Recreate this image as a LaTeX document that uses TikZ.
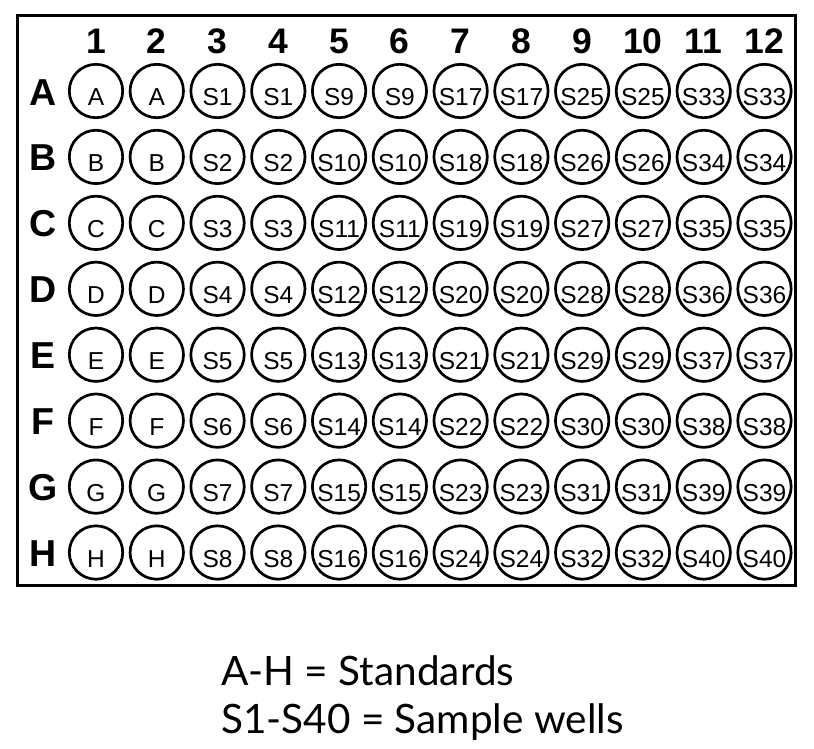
\documentclass[tikz,border=0pt]{standalone}
\usepackage{fontspec}
\setmainfont{Lato}
\newfontfamily\platefont{Liberation Sans}

\begin{document}
\begin{tikzpicture}[x=1pt,y=-1pt,
  frame/.style={draw, line width=3pt},
  well/.style={draw, circle, line width=2.7pt, minimum size=53.4pt, inner sep=0pt},
  welltext/.style={anchor=base, inner sep=0pt, font=\platefont\fontsize{24.5}{24.5}\selectfont},
  colhead/.style={anchor=base, inner sep=0pt, font=\platefont\bfseries\fontsize{35.5}{35.5}\selectfont},
  rowhead/.style={anchor=base, inner sep=0pt, font=\platefont\bfseries\fontsize{37.5}{37.5}\selectfont},
  legendtext/.style={anchor=base west, inner sep=0pt, font=\fontsize{40.5}{48}\selectfont}]
\useasboundingbox (0,0) rectangle (814,748);

% plate outline
\draw[frame] (17.5,15.5) rectangle (795.5,585.5);

% column numbers
\foreach \c in {1,...,12} {
  \pgfmathsetmacro\xpos{96+(\c-1)*60.77}
  \node[colhead] (col-\c) at (\xpos,53) {\c};
}

% rows of wells
\foreach \letter [count=\r] in {A,B,C,D,E,F,G,H} {
  \pgfmathsetmacro\ypos{91+(\r-1)*65.93}
  \node[rowhead] (row-\letter) at (43,\ypos+14) {\letter};
  \foreach \c in {1,...,12} {
    \pgfmathsetmacro\xpos{96+(\c-1)*60.77}
    \node[well] (w-\letter-\c) at (\xpos,\ypos) {};
    \ifnum\c<3
      \def\welllabel{\letter}
    \else
      \pgfmathtruncatemacro\snum{8*int((\c-3)/2)+\r}
      \def\welllabel{S\snum}
    \fi
    \node[welltext] (t-\letter-\c) at (\xpos,\ypos+14.5) {\welllabel};
  }
}

% key
\node[legendtext] (key-std) at (221,685) {A-H = Standards};
\node[legendtext] (key-smp) at (221,733) {S1-S40 = Sample wells};
\end{tikzpicture}
\end{document}
